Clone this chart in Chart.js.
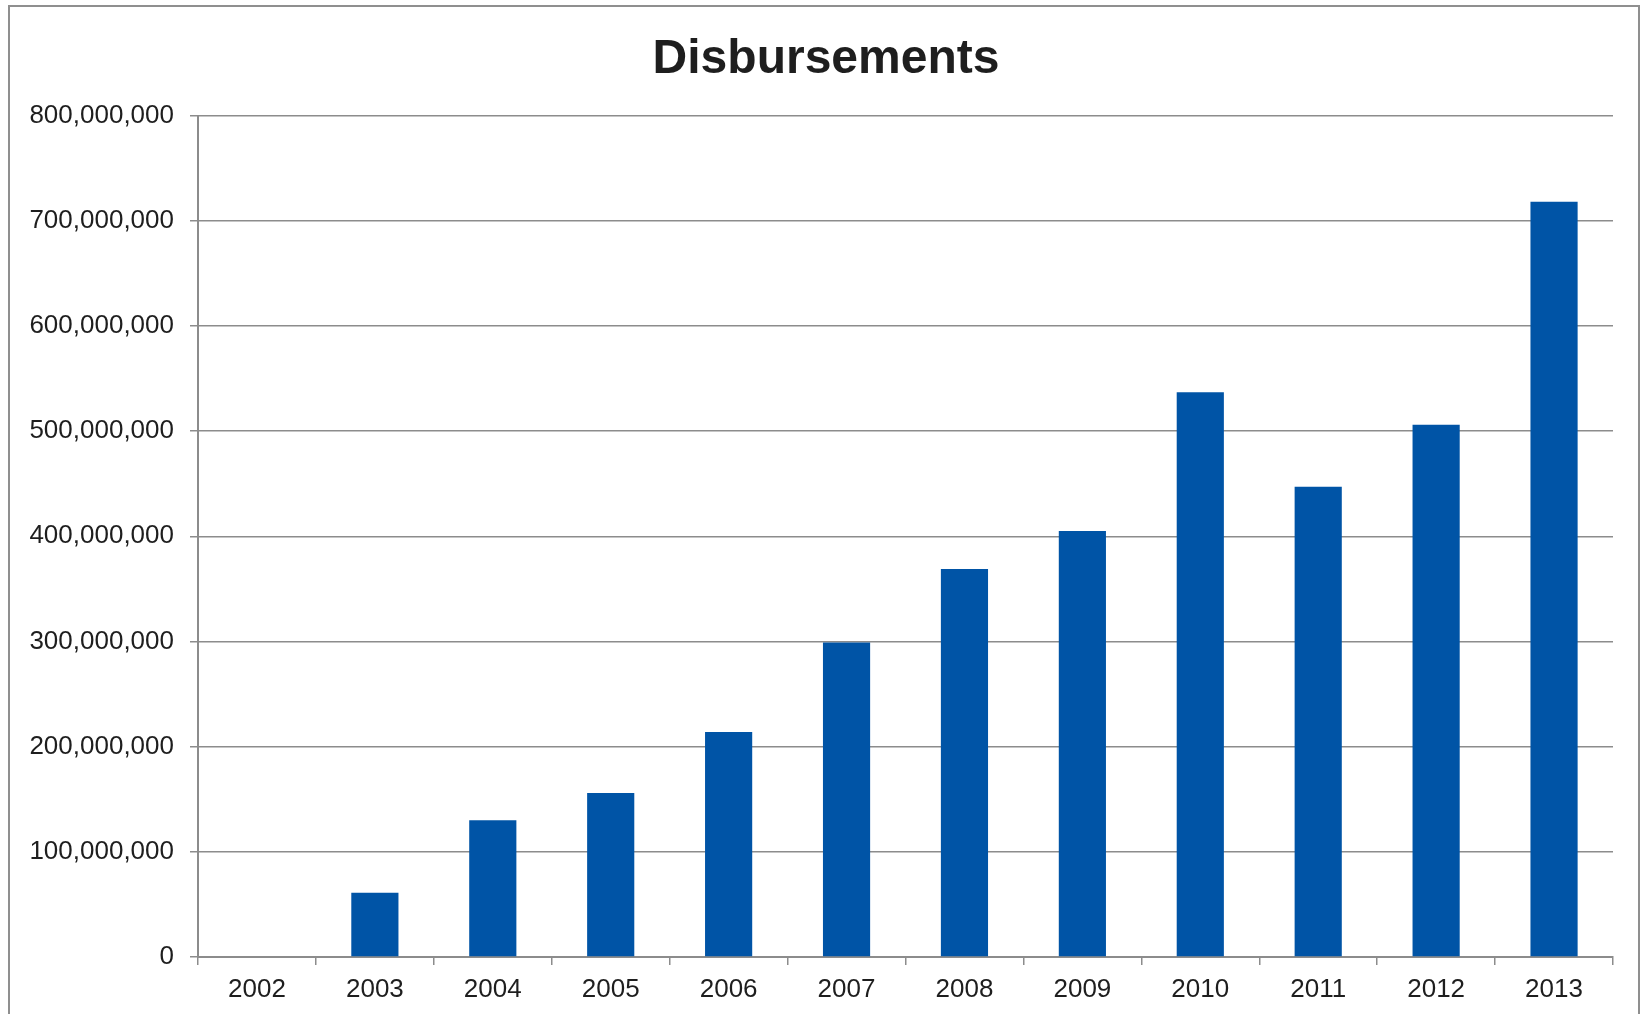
<!DOCTYPE html>
<html lang="en">
<head>
  <meta charset="UTF-8">
  <title>Disbursements</title>
  <script src="https://cdn.jsdelivr.net/npm/chart.js"></script>
  <style>
    body { margin: 0; background: #fff; overflow: hidden; }
    #wrap { position: relative; width: 1642px; height: 1014px; }
    #frame { position: absolute; left: 8px; top: 5px; width: 1632px; height: 1030px; border: 2px solid #8f8f8f; box-sizing: border-box; }
    canvas { position: absolute; left: 0; top: 0; }
  </style>
</head>
<body>
  <div id="wrap">
    <div id="frame"></div>
    <canvas id="chart" width="1642" height="1014"></canvas>
  </div>

  <script>
    // years and disbursed amounts
    const years = ['2002', '2003', '2004', '2005', '2006', '2007', '2008', '2009', '2010', '2011', '2012', '2013'];
    const disbursements = [0, 61000000, 130000000, 156000000, 214000000, 299000000, 369000000, 405000000, 537000000, 447000000, 506000000, 718000000];

    const gridColor = '#8c8c8c';
    const textColor = '#1e1e1e';

    // nudge the title a little to the right, like the original
    const titleShift = {
      id: 'titleShift',
      afterLayout(chart) {
        if (chart.titleBlock) chart.titleBlock.left += 19;
      }
    };

    const config = {
      type: 'bar',
      data: {
        labels: years,
        datasets: [{
          label: 'Disbursements',
          data: disbursements,
          backgroundColor: '#0054a6',
          borderWidth: 0,
          barPercentage: 0.4,
          categoryPercentage: 1
        }]
      },
      options: {
        responsive: false,
        animation: false,
        layout: { padding: { left: 20, right: 29, top: 0, bottom: 0 } },
        plugins: {
          legend: { display: false },
          tooltip: { enabled: false },
          title: {
            display: true,
            text: 'Disbursements',
            color: textColor,
            font: { family: '"Liberation Sans", Arial, sans-serif', size: 48, weight: 'bold' },
            padding: { top: 31, bottom: 27 }
          }
        },
        scales: {
          x: {
            grid: {
              offset: true,
              drawOnChartArea: false,
              drawTicks: true,
              tickLength: 8,
              color: gridColor,
              lineWidth: 1.5
            },
            border: { color: gridColor, width: 2 },
            ticks: {
              color: textColor,
              padding: 9,
              maxRotation: 0,
              font: { family: '"Liberation Sans", Arial, sans-serif', size: 26 }
            },
            afterFit: scale => { scale.height = 57; }
          },
          y: {
            min: 0,
            max: 800000000,
            grid: {
              color: gridColor,
              lineWidth: 1.5,
              tickLength: 8
            },
            border: { color: gridColor, width: 2 },
            ticks: {
              stepSize: 100000000,
              color: textColor,
              padding: 16,
              font: { family: '"Liberation Sans", Arial, sans-serif', size: 26 },
              callback: v => v.toLocaleString('en-US')
            },
            afterFit: scale => { scale.width = 178; }
          }
        }
      },
      plugins: [titleShift]
    };

    const ctx = document.getElementById('chart').getContext('2d');
    new Chart(ctx, config);
  </script>
</body>
</html>
